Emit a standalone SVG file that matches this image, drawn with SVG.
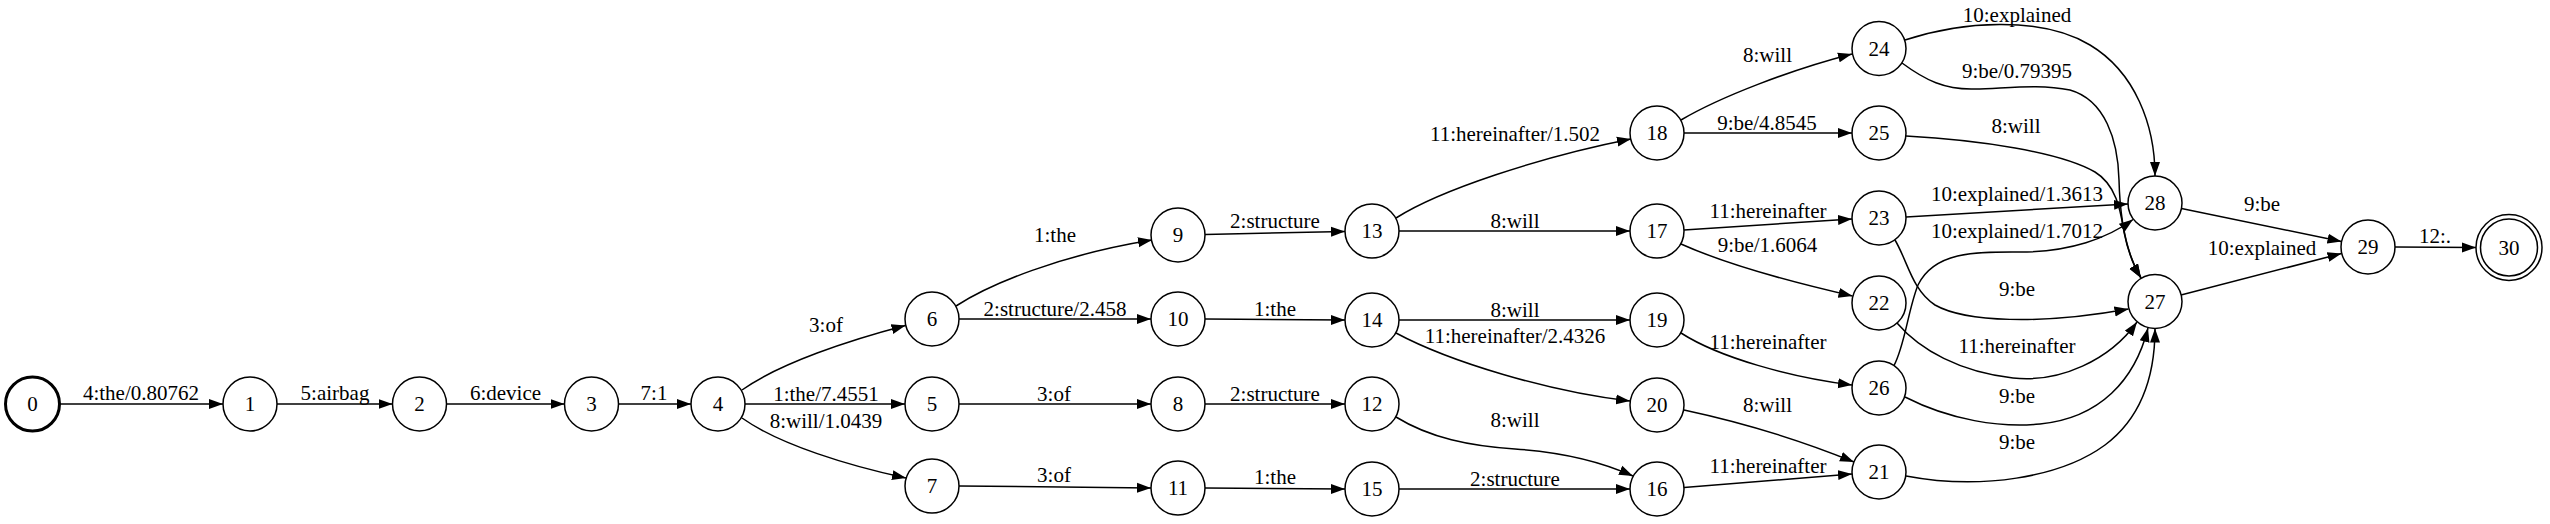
<svg xmlns="http://www.w3.org/2000/svg" width="2550" height="524" viewBox="0 0 2550 524">
<style>
.n circle{fill:#fff;stroke:#000;stroke-width:1.5}
text{font-family:"Liberation Serif","Times New Roman",serif;font-size:21px;fill:#000;text-anchor:middle}
.e path{fill:none;stroke:#000;stroke-width:1.5;marker-end:url(#ah)}
</style>
<defs>
<marker id="ah" markerWidth="15" markerHeight="11" refX="14" refY="5.5" orient="auto" markerUnits="userSpaceOnUse">
<path d="M0,0.5 L14,5.5 L0,10.5 z" fill="#000"/>
</marker>
</defs>
<rect width="2550" height="524" fill="#fff"/>
<g id="connectors" class="e">
<path d="M59.5,404 L223,404"/>
<path d="M277,404 L392.5,404"/>
<path d="M446.5,404 L564.5,404"/>
<path d="M618.5,404 L691,404"/>
<path d="M742,390 C780,363 850,340 905.5,325.5"/>
<path d="M745,404 L905,404"/>
<path d="M742,418 C780,445 850,466 906,478"/>
<path d="M956,306 C990,284 1060,255 1152,240"/>
<path d="M959,319 L1151,319"/>
<path d="M959,404 L1151,404"/>
<path d="M959,486 L1151,488"/>
<path d="M1205,234.5 L1345,231.5"/>
<path d="M1205,319 L1345,320"/>
<path d="M1205,404 L1345,404"/>
<path d="M1205,488 L1345,489"/>
<path d="M1396,218 C1440,190 1540,157 1631,139"/>
<path d="M1399,231 L1630,231"/>
<path d="M1399,320 L1630,320"/>
<path d="M1396,333 C1450,362 1550,392 1630,401"/>
<path d="M1396,417 C1430,438 1470,446 1515,449 C1560,452 1602,462 1633,476"/>
<path d="M1399,489 L1630,489"/>
<path d="M1681,120 C1720,97 1790,70 1852,54"/>
<path d="M1684,133 L1852,133"/>
<path d="M1684,230 L1852,219"/>
<path d="M1681,244 C1730,266 1800,284 1852.5,296"/>
<path d="M1681,333 C1720,358 1790,377 1852,385"/>
<path d="M1684,410 C1740,422 1800,440 1854,462"/>
<path d="M1684,487.5 L1852,474"/>
<path d="M1905,40 C1960,22 2040,15 2090,45 C2135,72 2155,125 2155,176"/>
<path d="M1902,63 C1925,80 1945,90 1975,89 C2010,88 2040,84 2070,90 C2105,100 2118,140 2119,180 C2120,220 2127,255 2141,278"/>
<path d="M1906,136 C1980,140 2060,152 2095,172 C2118,186 2121,215 2124,232 C2128,252 2133,265 2141,278"/>
<path d="M1906,217 L2128,204"/>
<path d="M1894,365.5 C1905,345 1908,310 1918,285 C1935,250 1980,252 2020,252 C2070,252 2108,238 2133,219.5"/>
<path d="M1895,240 C1908,262 1912,290 1935,305 C1965,322 2040,325 2128.5,309"/>
<path d="M1897,323 C1920,350 1960,372 2013,378 C2060,383 2110,360 2137,322"/>
<path d="M1905,397 C1950,420 2000,428 2040,424 C2100,418 2135,380 2148,328"/>
<path d="M1906,476 C1980,490 2060,478 2105,445 C2145,415 2155,370 2155,328.5"/>
<path d="M2181.5,208.5 L2341.5,241.5"/>
<path d="M2181,295 L2341.5,253.5"/>
<path d="M2395,247 L2476,247.5"/>
</g>
<g id="edge-labels">
<text x="141" y="400">4:the/0.80762</text>
<text x="335" y="400">5:airbag</text>
<text x="505.5" y="400">6:device</text>
<text x="654" y="400">7:1</text>
<text x="826" y="332">3:of</text>
<text x="826" y="401">1:the/7.4551</text>
<text x="826" y="428">8:will/1.0439</text>
<text x="1055" y="242">1:the</text>
<text x="1055" y="316">2:structure/2.458</text>
<text x="1054" y="401">3:of</text>
<text x="1054" y="482">3:of</text>
<text x="1275" y="228">2:structure</text>
<text x="1275" y="316">1:the</text>
<text x="1275" y="401">2:structure</text>
<text x="1275" y="484">1:the</text>
<text x="1515" y="141">11:hereinafter/1.502</text>
<text x="1515" y="228">8:will</text>
<text x="1515" y="316.5">8:will</text>
<text x="1515" y="343">11:hereinafter/2.4326</text>
<text x="1515" y="426.5">8:will</text>
<text x="1515" y="486">2:structure</text>
<text x="1767.5" y="61.5">8:will</text>
<text x="1767" y="130">9:be/4.8545</text>
<text x="1768" y="218">11:hereinafter</text>
<text x="1767.5" y="251.5">9:be/1.6064</text>
<text x="1768" y="349">11:hereinafter</text>
<text x="1767.5" y="411.5">8:will</text>
<text x="1768" y="473">11:hereinafter</text>
<text x="2017" y="22">10:explained</text>
<text x="2017" y="78">9:be/0.79395</text>
<text x="2016" y="132.5">8:will</text>
<text x="2017" y="201">10:explained/1.3613</text>
<text x="2017" y="238">10:explained/1.7012</text>
<text x="2017" y="296">9:be</text>
<text x="2017" y="353">11:hereinafter</text>
<text x="2017" y="403">9:be</text>
<text x="2017" y="449">9:be</text>
<text x="2262" y="210.5">9:be</text>
<text x="2262" y="255">10:explained</text>
<text x="2435" y="243">12:.</text>
</g>
<g id="node0" class="n"><circle cx="32.5" cy="404" r="27" style="stroke-width:3"/><text x="32.5" y="411">0</text></g>
<g id="node1" class="n"><circle cx="250" cy="404" r="27"/><text x="250" y="411">1</text></g>
<g id="node2" class="n"><circle cx="419.5" cy="404" r="27"/><text x="419.5" y="411">2</text></g>
<g id="node3" class="n"><circle cx="591.5" cy="404" r="27"/><text x="591.5" y="411">3</text></g>
<g id="node4" class="n"><circle cx="718" cy="404" r="27"/><text x="718" y="411">4</text></g>
<g id="node5" class="n"><circle cx="932" cy="404" r="27"/><text x="932" y="411">5</text></g>
<g id="node6" class="n"><circle cx="932" cy="319" r="27"/><text x="932" y="326">6</text></g>
<g id="node7" class="n"><circle cx="932" cy="486" r="27"/><text x="932" y="493">7</text></g>
<g id="node8" class="n"><circle cx="1178" cy="404" r="27"/><text x="1178" y="411">8</text></g>
<g id="node9" class="n"><circle cx="1178" cy="235" r="27"/><text x="1178" y="242">9</text></g>
<g id="node10" class="n"><circle cx="1178" cy="319" r="27"/><text x="1178" y="326">10</text></g>
<g id="node11" class="n"><circle cx="1178" cy="488" r="27"/><text x="1178" y="495">11</text></g>
<g id="node12" class="n"><circle cx="1372" cy="404" r="27"/><text x="1372" y="411">12</text></g>
<g id="node13" class="n"><circle cx="1372" cy="231" r="27"/><text x="1372" y="238">13</text></g>
<g id="node14" class="n"><circle cx="1372" cy="320" r="27"/><text x="1372" y="327">14</text></g>
<g id="node15" class="n"><circle cx="1372" cy="489" r="27"/><text x="1372" y="496">15</text></g>
<g id="node16" class="n"><circle cx="1657" cy="489" r="27"/><text x="1657" y="496">16</text></g>
<g id="node17" class="n"><circle cx="1657" cy="231" r="27"/><text x="1657" y="238">17</text></g>
<g id="node18" class="n"><circle cx="1657" cy="133" r="27"/><text x="1657" y="140">18</text></g>
<g id="node19" class="n"><circle cx="1657" cy="320" r="27"/><text x="1657" y="327">19</text></g>
<g id="node20" class="n"><circle cx="1657" cy="405" r="27"/><text x="1657" y="412">20</text></g>
<g id="node21" class="n"><circle cx="1879" cy="472" r="27"/><text x="1879" y="479">21</text></g>
<g id="node22" class="n"><circle cx="1879" cy="303" r="27"/><text x="1879" y="310">22</text></g>
<g id="node23" class="n"><circle cx="1879" cy="218" r="27"/><text x="1879" y="225">23</text></g>
<g id="node24" class="n"><circle cx="1879" cy="48.5" r="27"/><text x="1879" y="55.5">24</text></g>
<g id="node25" class="n"><circle cx="1879" cy="133" r="27"/><text x="1879" y="140">25</text></g>
<g id="node26" class="n"><circle cx="1879" cy="388" r="27"/><text x="1879" y="395">26</text></g>
<g id="node27" class="n"><circle cx="2155" cy="301.5" r="27"/><text x="2155" y="308.5">27</text></g>
<g id="node28" class="n"><circle cx="2155" cy="203" r="27"/><text x="2155" y="210">28</text></g>
<g id="node29" class="n"><circle cx="2368" cy="247" r="27"/><text x="2368" y="254">29</text></g>
<g id="node30" class="n"><circle cx="2509" cy="247.5" r="33"/><circle cx="2509" cy="247.5" r="28.5"/><text x="2509" y="254.5">30</text></g>
</svg>
